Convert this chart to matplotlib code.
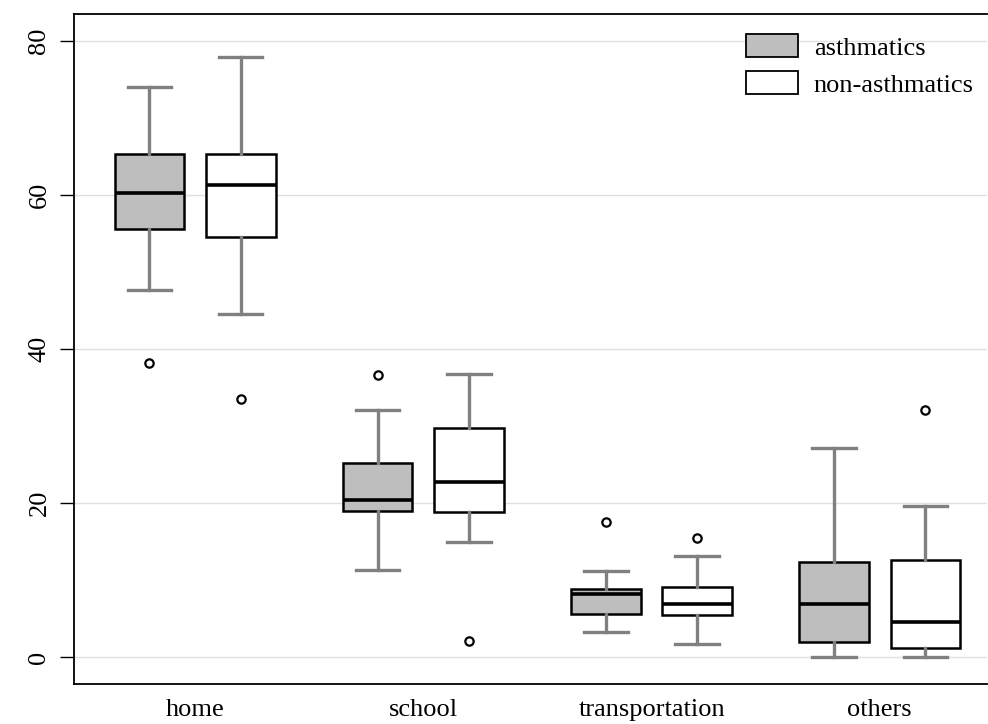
import matplotlib
matplotlib.use("Agg")
import matplotlib.pyplot as plt
from matplotlib.patches import Patch

plt.rcParams['font.family'] = ['Liberation Serif', 'DejaVu Serif']

categories = ['home', 'school', 'transportation', 'others']
groups = ['asthmatics', 'non-asthmatics']
colors = ['#bebebe', 'white']

# five-number summaries: low whisker, Q1, median, Q3, high whisker
asth_low = [47.7, 11.3, 3.2, 0.0]
asth_q1 = [55.6, 19.0, 5.6, 2.0]
asth_med = [60.3, 20.4, 8.2, 6.9]
asth_q3 = [65.3, 25.2, 8.8, 12.4]
asth_high = [74.0, 32.1, 11.2, 27.1]
asth_out = [[38.2], [36.6], [17.5], []]

non_low = [44.5, 14.9, 1.7, 0.0]
non_q1 = [54.5, 18.8, 5.4, 1.2]
non_med = [61.3, 22.7, 6.9, 4.6]
non_q3 = [65.3, 29.7, 9.1, 12.6]
non_high = [77.9, 36.8, 13.1, 19.6]
non_out = [[33.5], [2.1], [15.5], [32.1]]


def make_stats(low, q1, med, q3, high, out):
    return [dict(whislo=a, q1=b, med=c, q3=d, whishi=e, fliers=f)
            for a, b, c, d, e, f in zip(low, q1, med, q3, high, out)]


stats = [make_stats(asth_low, asth_q1, asth_med, asth_q3, asth_high, asth_out),
         make_stats(non_low, non_q1, non_med, non_q3, non_high, non_out)]

fig = plt.figure(figsize=(9.88, 7.24), dpi=100)
ax = fig.add_axes([0.075, 0.0552, 0.924, 0.9255])

offsets = [-0.2, 0.2]
for g in range(2):
    pos = [i + 1 + offsets[g] for i in range(len(categories))]
    ax.bxp(stats[g], positions=pos, widths=0.305, patch_artist=True,
           boxprops=dict(facecolor=colors[g], edgecolor='black', linewidth=1.8),
           medianprops=dict(color='black', linewidth=2.6),
           whiskerprops=dict(color='#808080', linewidth=2.4),
           capprops=dict(color='#808080', linewidth=2.4),
           capwidths=0.19,
           flierprops=dict(marker='o', markersize=6, markerfacecolor='none',
                           markeredgecolor='black', markeredgewidth=1.6),
           zorder=3)

ax.set_xlim(0.47, 4.47)
ax.set_ylim(-3.5, 83.5)
ax.set_xticks(range(1, len(categories) + 1))
ax.set_xticklabels(categories, fontsize=19)
ax.set_yticks([0, 20, 40, 60, 80])
ax.set_yticklabels(['0', '20', '40', '60', '80'], fontsize=19, rotation=90, va='center')
ax.tick_params(axis='x', length=0, pad=11)
ax.tick_params(axis='y', length=10, width=1, pad=7)
ax.yaxis.grid(True, color='#e0e0e0', linewidth=1)
ax.set_axisbelow(True)
for s in ['left', 'bottom', 'top']:
    ax.spines[s].set_linewidth(1.3)
ax.spines['right'].set_visible(False)

handles = [Patch(facecolor=c, edgecolor='black', linewidth=1.3) for c in colors]
ax.legend(handles, groups, loc='upper right', frameon=False, fontsize=19,
          handlelength=1.97, handleheight=1.0, handletextpad=0.6,
          labelspacing=0.42, borderaxespad=0.3, borderpad=0.2,
          bbox_to_anchor=(1.0, 0.99))

fig.savefig('out.png', dpi=100)
